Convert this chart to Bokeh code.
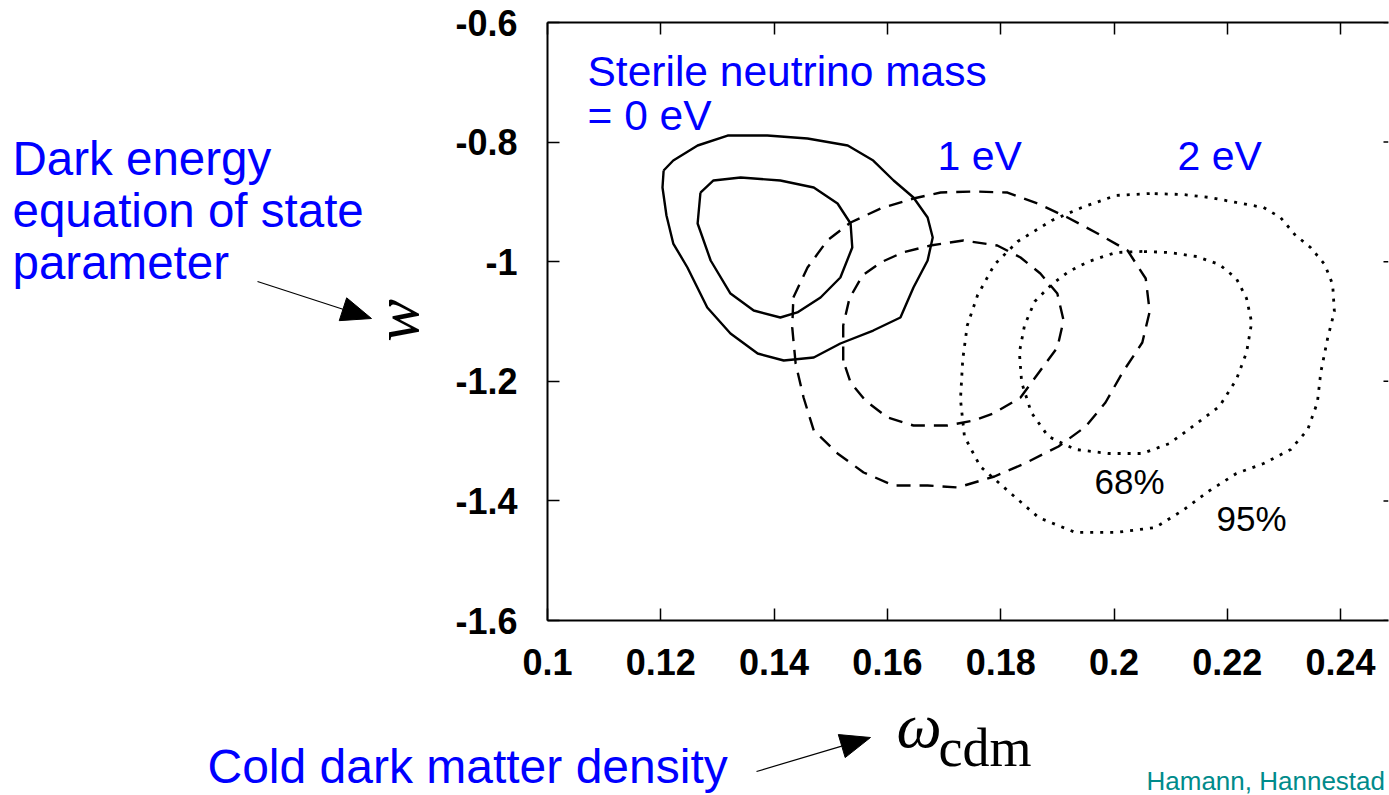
import math

from bokeh.embed import file_html
from bokeh.models import FixedTicker, Label, LinearAxis, Range1d
from bokeh.plotting import figure
from bokeh.resources import INLINE

# ---------------------------------------------------------------------------
# Confidence contours in the (omega_cdm, w) plane, one pair per sterile
# neutrino mass.  Each contour is an outline of (omega_cdm, w) points.
# ---------------------------------------------------------------------------

# m_s = 0 eV
m0_95_x = [0.1205, 0.1203, 0.1210, 0.1222, 0.1247, 0.1282, 0.1323, 0.1371, 0.1417, 0.1470,
           0.1517, 0.1575, 0.1623, 0.1646, 0.1671, 0.1680, 0.1671, 0.1646, 0.1611, 0.1575,
           0.1530, 0.1459, 0.1388, 0.1318, 0.1265, 0.1222]
m0_95_y = [-0.8475, -0.8759, -0.9227, -0.9696, -1.0097, -1.0766, -1.1201, -1.1535, -1.1652, -1.1602,
           -1.1368, -1.1151, -1.0933, -1.0431, -0.9980, -0.9595, -0.9261, -0.8926, -0.8642, -0.8308,
           -0.8057, -0.7940, -0.7890, -0.7890, -0.8057, -0.8308]
m0_68_x = [0.1270, 0.1265, 0.1288, 0.1323, 0.1364, 0.1411, 0.1441, 0.1482, 0.1517, 0.1538,
           0.1535, 0.1512, 0.1470, 0.1411, 0.1341, 0.1293]
m0_68_y = [-0.8843, -0.9361, -0.9980, -1.0532, -1.0816, -1.0933, -1.0849, -1.0599, -1.0264, -0.9763,
           -0.9361, -0.9027, -0.8759, -0.8642, -0.8592, -0.8642]

# m_s = 1 eV
m1_95_x = [0.1434, 0.1459, 0.1494, 0.1535, 0.1588, 0.1646, 0.1694, 0.1752, 0.1812, 0.1865,
           0.1918, 0.1971, 0.2024, 0.2056, 0.2063, 0.2050, 0.2015, 0.1985, 0.1950, 0.1902,
           0.1842, 0.1789, 0.1724, 0.1671, 0.1611, 0.1558, 0.1512, 0.1470, 0.1452, 0.1438, 0.1432]
m1_95_y = [-1.0599, -1.0097, -0.9645, -0.9344, -0.9110, -0.8943, -0.8843, -0.8826, -0.8843, -0.9027,
           -0.9261, -0.9528, -0.9813, -1.0281, -1.0833, -1.1351, -1.1853, -1.2355, -1.2756, -1.3090,
           -1.3375, -1.3592, -1.3776, -1.3742, -1.3742, -1.3525, -1.3207, -1.2823, -1.2271, -1.1702, -1.1100]
m1_68_x = [0.1522, 0.1522, 0.1533, 0.1556, 0.1588, 0.1627, 0.1676, 0.1734, 0.1794, 0.1835,
           0.1870, 0.1900, 0.1911, 0.1900, 0.1870, 0.1835, 0.1787, 0.1752, 0.1706, 0.1646,
           0.1600, 0.1561, 0.1535]
m1_68_y = [-1.1652, -1.1067, -1.0615, -1.0231, -1.0013, -0.9846, -0.9729, -0.9645, -0.9729, -0.9930,
           -1.0197, -1.0532, -1.0983, -1.1435, -1.1819, -1.2271, -1.2538, -1.2656, -1.2739, -1.2739,
           -1.2605, -1.2321, -1.2020]

# m_s = 2 eV
m2_95_x = [0.2063, 0.2003, 0.1943, 0.1890, 0.1830, 0.1789, 0.1759, 0.1741, 0.1733, 0.1729,
           0.1736, 0.1764, 0.1812, 0.1867, 0.1932, 0.2003, 0.2073, 0.2121, 0.2169, 0.2216,
           0.2264, 0.2312, 0.2342, 0.2359, 0.2365, 0.2377, 0.2389, 0.2386, 0.2372, 0.2347,
           0.2319, 0.2294, 0.2264, 0.2216, 0.2169, 0.2121]
m2_95_y = [-0.8860, -0.8893, -0.9094, -0.9311, -0.9662, -1.0047, -1.0565, -1.1067, -1.1635, -1.2304,
           -1.2923, -1.3425, -1.3826, -1.4278, -1.4528, -1.4528, -1.4445, -1.4161, -1.3826, -1.3542,
           -1.3375, -1.3140, -1.2806, -1.2355, -1.1853, -1.1284, -1.0833, -1.0381, -1.0047, -0.9763,
           -0.9545, -0.9261, -0.9094, -0.9010, -0.8926, -0.8876]
m2_68_x = [0.2050, 0.2003, 0.1955, 0.1920, 0.1890, 0.1860, 0.1842, 0.1833, 0.1837, 0.1854,
           0.1884, 0.1932, 0.1990, 0.2050, 0.2098, 0.2146, 0.2186, 0.2216, 0.2234, 0.2243,
           0.2234, 0.2216, 0.2186, 0.2146, 0.2098]
m2_68_y = [-0.9829, -0.9846, -0.9997, -1.0164, -1.0381, -1.0666, -1.1067, -1.1518, -1.2020, -1.2522,
           -1.2923, -1.3140, -1.3207, -1.3207, -1.3040, -1.2706, -1.2421, -1.1970, -1.1518, -1.1017,
           -1.0615, -1.0281, -1.0047, -0.9913, -0.9846]

# Axis ticks and their labels
x_ticks = [0.1, 0.12, 0.14, 0.16, 0.18, 0.2, 0.22, 0.24]
x_tick_labels = ["0.1", "0.12", "0.14", "0.16", "0.18", "0.2", "0.22", "0.24"]
y_ticks = [-1.6, -1.4, -1.2, -1.0, -0.8, -0.6]
y_tick_labels = ["-1.6", "-1.4", "-1.2", "-1", "-0.8", "-0.6"]

# ---------------------------------------------------------------------------
# Main panel: frame geometry (pixels) and ranges
# ---------------------------------------------------------------------------
W, H = 1389, 795
FRAME_L, FRAME_T, FRAME_W, FRAME_H = 547, 22, 841, 598
X0 = 0.1
X1 = 0.1 + FRAME_W * 0.02 / 113.3
Y0, Y1 = -1.6, -0.6


def closed(seq):
    return list(seq) + [seq[0]]


p = figure(
    frame_width=FRAME_W, frame_height=FRAME_H,
    x_range=Range1d(X0, X1), y_range=Range1d(Y0, Y1),
    min_border_left=FRAME_L, min_border_top=FRAME_T,
    min_border_right=W - FRAME_L - FRAME_W, min_border_bottom=H - FRAME_T - FRAME_H,
    x_axis_location="below", y_axis_location="left",
    output_backend="svg", toolbar_location=None,
    background_fill_color="white", border_fill_color="white",
    outline_line_color=None,
)
p.title.visible = False
p.grid.visible = False

TICK_FONT = "Liberation Sans"

xa = p.xaxis[0]
xa.ticker = FixedTicker(ticks=x_ticks)
xa.major_label_overrides = dict(zip(x_ticks, x_tick_labels))
xa.minor_tick_line_color = None
xa.major_tick_in, xa.major_tick_out = 12, 0
xa.major_tick_line_width = 1.5
xa.axis_line_width = 2
xa.major_label_standoff = 28
xa.major_label_text_font = TICK_FONT
xa.major_label_text_font_style = "bold"
xa.major_label_text_font_size = "36px"
xa.major_label_text_color = "black"

ya = p.yaxis[0]
ya.ticker = FixedTicker(ticks=y_ticks)
ya.major_label_overrides = dict(zip(y_ticks, y_tick_labels))
ya.minor_tick_line_color = None
ya.major_tick_in, ya.major_tick_out = 12, 0
ya.major_tick_line_width = 1.5
ya.axis_line_width = 2
ya.major_label_standoff = 30
ya.major_label_text_font = TICK_FONT
ya.major_label_text_font_style = "bold"
ya.major_label_text_font_size = "36px"
ya.major_label_text_color = "black"

top = LinearAxis(
    ticker=FixedTicker(ticks=x_ticks),
    major_label_overrides={t: "" for t in x_ticks},
    major_tick_in=12, major_tick_out=0, major_tick_line_width=1.5,
    minor_tick_line_color=None, axis_line_width=2, major_label_standoff=0,
)
p.add_layout(top, "above")

# right-hand tick stubs (the frame continues past the right edge)
stub = 5 / FRAME_W * (X1 - X0)
p.segment(x0=[X1 - stub] * len(y_ticks), x1=[X1] * len(y_ticks),
          y0=y_ticks, y1=y_ticks, line_color="black", line_width=1.5)

# contours: solid = 0 eV, dashed = 1 eV, dotted = 2 eV
styles = [
    (m0_95_x, m0_95_y, "solid", 2.4), (m0_68_x, m0_68_y, "solid", 2.4),
    (m1_95_x, m1_95_y, "14 9", 2.4), (m1_68_x, m1_68_y, "14 9", 2.4),
    (m2_95_x, m2_95_y, "3 7", 2.8), (m2_68_x, m2_68_y, "3 7", 2.8),
]
for xs, ys, dash, lw in styles:
    p.line(closed(xs), closed(ys), line_color="black", line_width=lw, line_dash=dash)

# ---------------------------------------------------------------------------
# Notes layer: a transparent full-page canvas (pixel coordinates, y down)
# laid over the main panel for the explanatory texts and arrows.
# ---------------------------------------------------------------------------
notes = figure(
    frame_width=W, frame_height=H,
    x_range=Range1d(0, W), y_range=Range1d(H, 0),
    min_border=0, x_axis_location=None, y_axis_location=None,
    output_backend="svg", toolbar_location=None,
    background_fill_color=None, border_fill_color=None, outline_line_color=None,
    styles={"position": "absolute", "top": "0px", "left": "0px", "z-index": "2"},
)
notes.title.visible = False
notes.grid.visible = False

BLUE = "#0000ff"
SANS = "Liberation Sans"


def add_text(px, baseline_y, text, size, color=BLUE, font=SANS, style="normal",
             align="left", angle=0.0, centre=False):
    # labels are anchored at their vertical middle; shift from the baseline
    y = baseline_y if centre else baseline_y - 0.35 * size
    notes.add_layout(Label(x=px, y=y, text=text, text_font=font, text_font_size=f"{size}px",
                           text_font_style=style, text_color=color, text_align=align,
                           text_baseline="middle", angle=angle))


# labels inside the plotting area
add_text(587, 86, "Sterile neutrino mass", 42.5)
add_text(587, 130, "= 0 eV", 42.5)
add_text(937, 170, "1 eV", 41)
add_text(1177, 170, "2 eV", 41)
add_text(1094, 493, "68%", 35, color="black")
add_text(1216, 530, "95%", 35, color="black")

# axis symbols
add_text(396, 320, "w", 64, color="black", font="Liberation Serif", style="italic",
         align="center", angle=math.pi / 2, centre=True)
add_text(896, 747, "ω", 64, color="black", font="Liberation Serif", style="italic")
add_text(938, 766, "cdm", 54, color="black", font="Liberation Serif")

# explanatory notes
add_text(12, 175, "Dark energy", 47.5)
add_text(12, 227, "equation of state", 47.5)
add_text(12, 279, "parameter", 47.5)
add_text(207, 783, "Cold dark matter density", 48)
add_text(1146, 790, "Hamann, Hannestad", 26, color="#008b8b")

# pointer arrows: thin shaft plus a filled triangular head
arrows = [((257, 281), (371, 318)), ((756, 771), (870, 737))]
HEAD_LEN, HEAD_HALF = 30, 12
for (sx, sy), (ex, ey) in arrows:
    d = math.hypot(ex - sx, ey - sy)
    ux, uy = (ex - sx) / d, (ey - sy) / d
    bx, by = ex - HEAD_LEN * ux, ey - HEAD_LEN * uy
    notes.segment(x0=[sx], y0=[sy], x1=[bx], y1=[by], line_color="black", line_width=1.2)
    notes.patch(x=[ex, bx - HEAD_HALF * uy, bx + HEAD_HALF * uy],
                y=[ey, by + HEAD_HALF * ux, by - HEAD_HALF * ux],
                fill_color="black", line_color="black", line_width=1)

# two independent roots: the notes canvas sits on top of the main panel
open("out.html", "w").write(file_html([p, notes], INLINE))
